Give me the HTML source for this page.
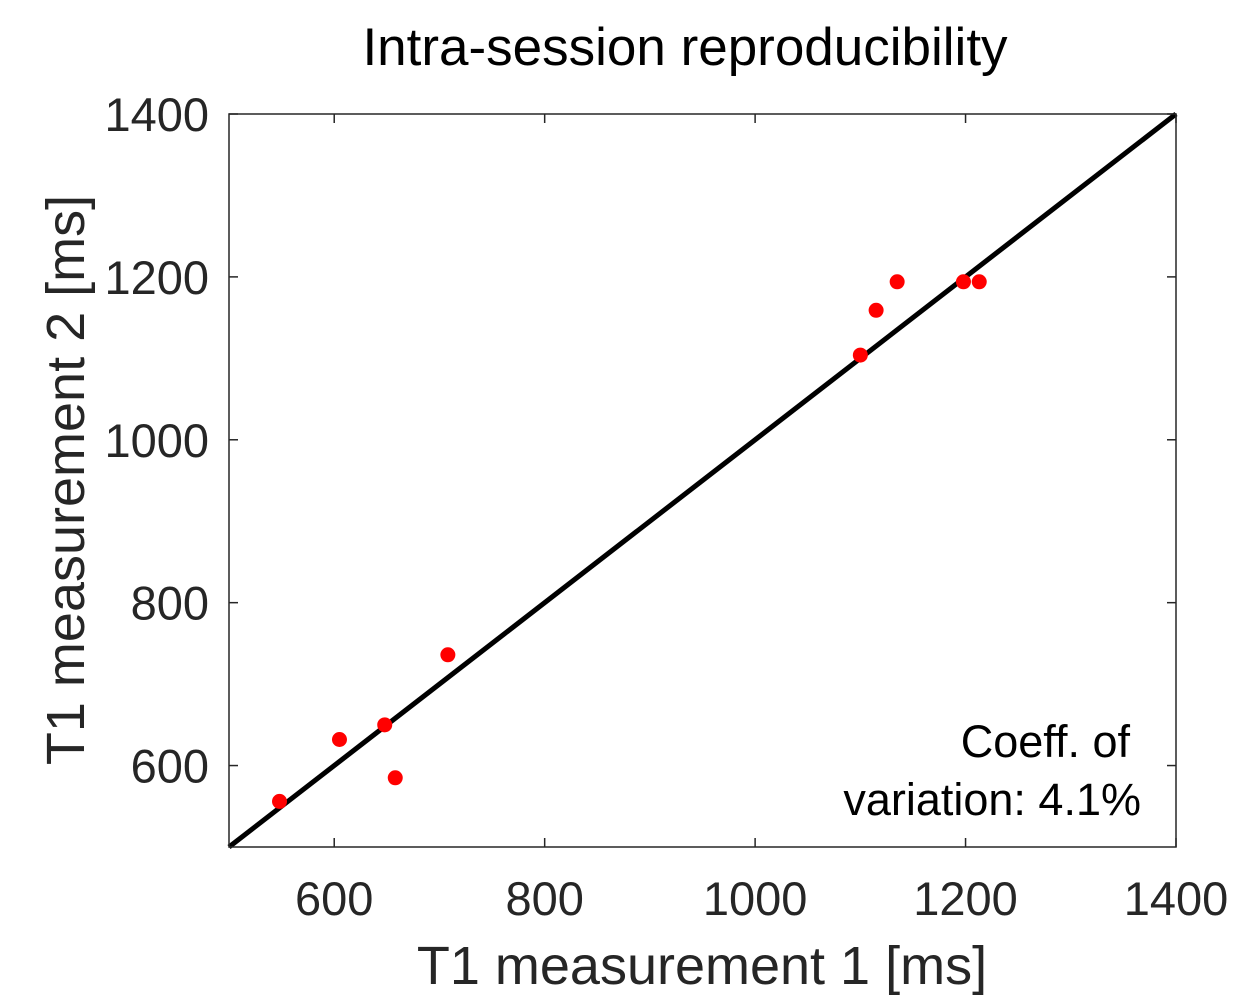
<!DOCTYPE html>
<html><head><meta charset="utf-8"><style>
html,body{margin:0;padding:0;background:#fff;}
svg{display:block;font-family:"Liberation Sans",Arial,sans-serif;}
</style></head><body>
<svg id="chart" width="1259" height="1005" viewBox="0 0 1259 1005">
<rect width="1259" height="1005" fill="#fff"/>
<text x="685" y="65" text-anchor="middle" font-size="53" fill="#000">Intra-session reproducibility</text>
<g id="ticks"></g>
<line id="identity" stroke="#000" stroke-width="5"/>
<g id="points"></g>
<rect x="229" y="114" width="947" height="733" fill="none" stroke="#262626" stroke-width="1.5"/>
<text x="1130" y="757" text-anchor="end" font-size="45" fill="#000">Coeff. of</text>
<text x="1141" y="815" text-anchor="end" font-size="45" fill="#000">variation: 4.1%</text>
<text x="702" y="984" text-anchor="middle" font-size="54" fill="#262626">T1 measurement 1 [ms]</text>
<text transform="translate(84,480) rotate(-90)" text-anchor="middle" font-size="54" fill="#262626">T1 measurement 2 [ms]</text>
</svg>
<script>
const xTicks=[600,800,1000,1200,1400];
const yTicks=[600,800,1000,1200,1400];
const xVals=[548,605,648,658,708,1100,1115,1135,1198,1213];
const yVals=[556,632,650,585,736,1104,1159,1194,1194,1194];
const NS="http://www.w3.org/2000/svg";
function sx(v){return 229+(v-500)*(947/900);}
function sy(v){return 847-(v-500)*(733/900);}
const tg=document.getElementById('ticks');
function mk(tag,attrs,parent){const e=document.createElementNS(NS,tag);for(const k in attrs)e.setAttribute(k,attrs[k]);parent.appendChild(e);return e;}
xTicks.forEach(t=>{
  const x=sx(t);
  const a=mk('line',{x1:x,x2:x,y1:847,y2:838,stroke:'#262626','stroke-width':1.5},tg);
  
  
  const b=mk('line',{x1:x,x2:x,y1:114,y2:123,stroke:'#262626','stroke-width':1.5},tg);
  
  
  const l=mk('text',{x:x,y:915,'text-anchor':'middle','font-size':47,fill:'#262626'},tg);
  l.textContent=t;
  
  
});
yTicks.forEach(t=>{
  const y=sy(t);
  const a=mk('line',{x1:229,x2:238,y1:y,y2:y,stroke:'#262626','stroke-width':1.5},tg);
  
  
  const b=mk('line',{x1:1176,x2:1167,y1:y,y2:y,stroke:'#262626','stroke-width':1.5},tg);
  
  
  const l=mk('text',{x:209,y:y+17,'text-anchor':'end','font-size':47,fill:'#262626'},tg);
  l.textContent=t;
  
  
});
const id=document.getElementById('identity');
id.setAttribute('x1',sx(500));id.setAttribute('y1',sy(500));
id.setAttribute('x2',sx(1400));id.setAttribute('y2',sy(1400));
const pg=document.getElementById('points');
xVals.forEach((v,i)=>{
  const c=mk('circle',{cx:sx(v),cy:sy(yVals[i]),r:7.5,fill:'#ff0000'},pg);
  
  
});
</script>
</body></html>
